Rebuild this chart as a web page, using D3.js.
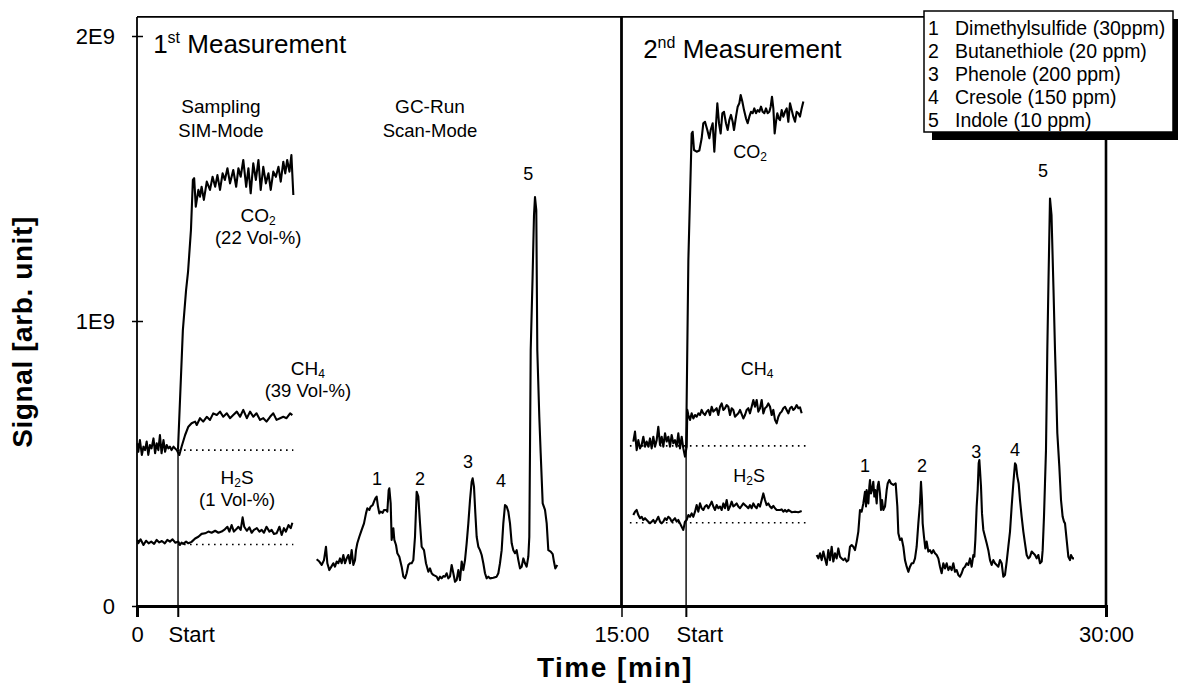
<!DOCTYPE html>
<html lang="en">
<head>
<meta charset="UTF-8">
<title>Signal vs. time, two measurements</title>
<style>
  body { margin: 0; background: #fff; }
  svg { display: block; font-family: "Liberation Sans", Arial, Helvetica, sans-serif; }
  .trace { fill: none; stroke: #000; stroke-width: 2.1px; stroke-linejoin: round; }
  .base { stroke: #000; stroke-width: 1.6px; stroke-dasharray: 1.6,4.4; }
  .lbl { text-anchor: middle; fill: #000; }
  .peak { font-size: 18px; text-anchor: middle; }
</style>
<script src="https://d3js.org/d3.v7.min.js"></script>
</head>
<body>
<div id="chart"></div>
<script>
// time in minutes, signal in units of 1E9
const timeTicks = [0, 1.27, 15, 17.0, 30];
const timeTickLabels = ["0", "Start", "15:00", "Start", "30:00"];
const signalTicks = [0, 1, 2];
const signalTickLabels = ["0", "1E9", "2E9"];
const startTimes = [1.27, 17.0];

const legendItems = [
  ["1", "Dimethylsulfide (30ppm)"],
  ["2", "Butanethiole (20 ppm)"],
  ["3", "Phenole (200 ppm)"],
  ["4", "Cresole (150 ppm)"],
  ["5", "Indole (10 ppm)"]
];

// dotted reference levels (baseline before sampling)
const baseFrom = [1.27, 1.27, 15.26, 15.26];
const baseTo = [4.84, 4.84, 20.73, 20.73];
const baseLevel = [0.547, 0.216, 0.562, 0.292];

const co2Run1 = [[1.27,0.551],[1.42,0.968],[1.52,1.109],[1.58,1.172],[1.67,1.319],[1.73,1.495],[1.77,1.501],[1.82,1.401],[1.90,1.460],[1.95,1.436],[2.00,1.471],[2.07,1.425],[2.16,1.489],[2.26,1.460],[2.34,1.506],[2.42,1.471],[2.49,1.512],[2.57,1.460],[2.65,1.518],[2.72,1.495],[2.80,1.536],[2.88,1.483],[2.98,1.530],[3.07,1.471],[3.14,1.536],[3.21,1.506],[3.29,1.565],[3.38,1.471],[3.45,1.536],[3.52,1.448],[3.60,1.553],[3.68,1.495],[3.76,1.565],[3.83,1.460],[3.91,1.541],[3.99,1.483],[4.07,1.518],[4.14,1.460],[4.22,1.524],[4.30,1.506],[4.38,1.541],[4.45,1.489],[4.53,1.559],[4.59,1.518],[4.65,1.565],[4.72,1.524],[4.78,1.582],[4.84,1.442]];

const ch4Run1 = [[0.02,0.571],[0.04,0.541],[0.09,0.582],[0.15,0.530],[0.20,0.559],[0.25,0.547],[0.30,0.577],[0.35,0.530],[0.40,0.565],[0.45,0.553],[0.51,0.588],[0.56,0.536],[0.61,0.571],[0.66,0.547],[0.71,0.600],[0.76,0.536],[0.82,0.582],[0.87,0.541],[0.92,0.565],[0.97,0.553],[1.02,0.559],[1.07,0.547],[1.13,0.559],[1.23,0.547],[1.31,0.530],[1.38,0.559],[1.49,0.600],[1.59,0.629],[1.69,0.641],[1.80,0.647],[1.85,0.635],[1.95,0.659],[2.05,0.647],[2.16,0.664],[2.26,0.653],[2.36,0.676],[2.47,0.670],[2.57,0.682],[2.67,0.664],[2.78,0.676],[2.88,0.659],[2.98,0.670],[3.09,0.682],[3.19,0.664],[3.29,0.688],[3.40,0.659],[3.50,0.682],[3.60,0.664],[3.70,0.676],[3.81,0.653],[3.91,0.659],[4.01,0.647],[4.12,0.664],[4.22,0.676],[4.32,0.653],[4.43,0.659],[4.53,0.664],[4.63,0.659],[4.74,0.676],[4.81,0.670]];

const h2sRun1 = [[0.02,0.232],[0.04,0.220],[0.11,0.234],[0.20,0.214],[0.28,0.229],[0.36,0.220],[0.44,0.226],[0.53,0.218],[0.61,0.232],[0.69,0.223],[0.77,0.228],[0.86,0.220],[0.94,0.232],[1.02,0.226],[1.10,0.234],[1.19,0.222],[1.28,0.226],[1.33,0.214],[1.38,0.222],[1.43,0.218],[1.52,0.226],[1.59,0.220],[1.69,0.225],[1.80,0.237],[1.90,0.243],[2.00,0.253],[2.11,0.255],[2.21,0.261],[2.31,0.257],[2.42,0.264],[2.52,0.257],[2.62,0.261],[2.72,0.269],[2.80,0.278],[2.86,0.261],[2.93,0.284],[3.00,0.261],[3.07,0.269],[3.14,0.278],[3.21,0.267],[3.27,0.311],[3.32,0.278],[3.40,0.264],[3.48,0.276],[3.55,0.257],[3.62,0.267],[3.71,0.273],[3.79,0.261],[3.86,0.267],[3.93,0.257],[4.01,0.278],[4.10,0.261],[4.17,0.267],[4.24,0.253],[4.32,0.255],[4.41,0.278],[4.48,0.249],[4.55,0.273],[4.61,0.261],[4.69,0.284],[4.76,0.273],[4.81,0.292]];

const gcRun1 = [[5.562,0.164],[5.645,0.156],[5.717,0.144],[5.789,0.161],[5.851,0.208],[5.893,0.150],[5.955,0.126],[6.027,0.140],[6.078,0.150],[6.130,0.138],[6.182,0.156],[6.233,0.150],[6.285,0.167],[6.336,0.150],[6.388,0.179],[6.440,0.150],[6.491,0.167],[6.543,0.179],[6.594,0.150],[6.646,0.196],[6.698,0.144],[6.749,0.161],[6.780,0.196],[6.821,0.220],[6.883,0.243],[6.956,0.267],[7.028,0.290],[7.090,0.325],[7.131,0.343],[7.193,0.337],[7.234,0.349],[7.296,0.354],[7.337,0.366],[7.379,0.378],[7.420,0.384],[7.461,0.349],[7.502,0.325],[7.544,0.331],[7.606,0.327],[7.647,0.337],[7.709,0.337],[7.750,0.331],[7.792,0.407],[7.812,0.413],[7.854,0.360],[7.884,0.232],[7.936,0.273],[7.967,0.232],[8.019,0.214],[8.060,0.185],[8.122,0.173],[8.194,0.138],[8.246,0.103],[8.297,0.097],[8.349,0.115],[8.400,0.144],[8.452,0.150],[8.504,0.150],[8.555,0.161],[8.607,0.243],[8.658,0.401],[8.710,0.384],[8.762,0.290],[8.813,0.208],[8.885,0.196],[8.947,0.150],[9.020,0.120],[9.071,0.132],[9.123,0.115],[9.174,0.109],[9.278,0.103],[9.329,0.091],[9.381,0.103],[9.432,0.097],[9.484,0.105],[9.536,0.103],[9.587,0.115],[9.639,0.097],[9.690,0.103],[9.742,0.144],[9.794,0.115],[9.845,0.085],[9.897,0.091],[9.948,0.126],[10.000,0.091],[10.052,0.156],[10.103,0.126],[10.155,0.161],[10.206,0.220],[10.258,0.290],[10.310,0.372],[10.361,0.436],[10.392,0.448],[10.433,0.419],[10.475,0.325],[10.516,0.243],[10.568,0.208],[10.619,0.196],[10.671,0.179],[10.722,0.150],[10.774,0.115],[10.826,0.097],[10.877,0.103],[10.929,0.097],[11.032,0.099],[11.135,0.103],[11.187,0.115],[11.238,0.150],[11.290,0.196],[11.341,0.290],[11.393,0.354],[11.445,0.349],[11.496,0.331],[11.548,0.290],[11.600,0.220],[11.651,0.196],[11.703,0.185],[11.754,0.196],[11.806,0.161],[11.858,0.132],[11.909,0.138],[11.961,0.167],[12.012,0.150],[12.064,0.138],[12.115,0.173],[12.146,0.243],[12.167,0.547],[12.189,0.898],[12.245,1.144],[12.291,1.372],[12.322,1.435],[12.362,1.389],[12.393,0.898],[12.455,0.664],[12.498,0.536],[12.560,0.360],[12.632,0.337],[12.684,0.290],[12.734,0.196],[12.808,0.191],[12.870,0.182],[12.910,0.155],[12.950,0.132],[13.012,0.144]];

const co2Run2 = [[17.00,0.554],[17.07,1.214],[17.172,1.658],[17.203,1.664],[17.245,1.600],[17.327,1.594],[17.410,1.598],[17.482,1.641],[17.533,1.694],[17.585,1.699],[17.657,1.670],[17.719,1.641],[17.761,1.670],[17.823,1.694],[17.874,1.594],[17.915,1.670],[17.967,1.764],[18.019,1.694],[18.070,1.658],[18.122,1.729],[18.173,1.734],[18.235,1.694],[18.287,1.670],[18.338,1.705],[18.390,1.723],[18.442,1.699],[18.483,1.670],[18.545,1.717],[18.597,1.752],[18.648,1.764],[18.690,1.793],[18.741,1.770],[18.793,1.740],[18.854,1.711],[18.906,1.694],[18.958,1.717],[19.009,1.734],[19.061,1.729],[19.112,1.746],[19.164,1.729],[19.216,1.740],[19.267,1.734],[19.319,1.752],[19.371,1.734],[19.422,1.729],[19.474,1.746],[19.525,1.729],[19.577,1.734],[19.618,1.752],[19.659,1.787],[19.701,1.746],[19.742,1.658],[19.783,1.699],[19.824,1.729],[19.866,1.711],[19.907,1.705],[19.959,1.740],[20.010,1.717],[20.062,1.734],[20.114,1.746],[20.165,1.699],[20.217,1.764],[20.268,1.740],[20.320,1.717],[20.372,1.699],[20.423,1.734],[20.475,1.729],[20.526,1.717],[20.578,1.746],[20.630,1.770]];

const ch4Run2 = [[15.366,0.577],[15.418,0.612],[15.470,0.547],[15.521,0.582],[15.573,0.553],[15.624,0.565],[15.676,0.594],[15.728,0.559],[15.779,0.577],[15.831,0.559],[15.882,0.588],[15.934,0.553],[15.985,0.594],[16.037,0.559],[16.089,0.582],[16.140,0.629],[16.192,0.565],[16.244,0.594],[16.295,0.559],[16.347,0.606],[16.398,0.577],[16.450,0.594],[16.502,0.559],[16.553,0.600],[16.605,0.571],[16.656,0.582],[16.708,0.559],[16.759,0.606],[16.811,0.553],[16.863,0.594],[16.914,0.553],[16.966,0.524],[17.018,0.559],[17.038,0.688],[17.069,0.670],[17.121,0.653],[17.172,0.676],[17.224,0.658],[17.276,0.670],[17.327,0.664],[17.379,0.676],[17.430,0.670],[17.482,0.688],[17.533,0.676],[17.585,0.670],[17.637,0.682],[17.688,0.688],[17.740,0.670],[17.792,0.699],[17.843,0.682],[17.895,0.688],[17.946,0.694],[17.998,0.670],[18.050,0.699],[18.101,0.711],[18.153,0.688],[18.204,0.694],[18.256,0.705],[18.307,0.699],[18.359,0.670],[18.411,0.694],[18.462,0.688],[18.514,0.664],[18.566,0.670],[18.617,0.676],[18.669,0.688],[18.772,0.658],[18.824,0.670],[18.875,0.688],[18.927,0.694],[18.978,0.676],[19.030,0.699],[19.082,0.723],[19.133,0.699],[19.185,0.723],[19.236,0.682],[19.288,0.694],[19.340,0.723],[19.391,0.676],[19.443,0.694],[19.494,0.699],[19.546,0.711],[19.598,0.699],[19.649,0.670],[19.701,0.688],[19.752,0.653],[19.804,0.641],[19.856,0.664],[19.907,0.676],[19.959,0.682],[20.010,0.694],[20.062,0.699],[20.114,0.688],[20.165,0.676],[20.217,0.694],[20.268,0.699],[20.320,0.688],[20.372,0.694],[20.423,0.705],[20.475,0.694],[20.526,0.697],[20.578,0.676]];

const h2sRun2 = [[15.366,0.319],[15.418,0.331],[15.470,0.337],[15.521,0.319],[15.573,0.308],[15.624,0.313],[15.676,0.302],[15.728,0.308],[15.779,0.302],[15.831,0.296],[15.882,0.290],[15.934,0.296],[15.985,0.302],[16.037,0.292],[16.089,0.302],[16.140,0.313],[16.192,0.296],[16.244,0.290],[16.295,0.296],[16.347,0.308],[16.398,0.302],[16.450,0.313],[16.502,0.308],[16.553,0.296],[16.605,0.302],[16.656,0.308],[16.708,0.296],[16.759,0.302],[16.811,0.290],[16.863,0.278],[16.914,0.267],[16.966,0.296],[17.018,0.302],[17.069,0.319],[17.121,0.313],[17.172,0.325],[17.224,0.313],[17.276,0.331],[17.327,0.354],[17.379,0.331],[17.430,0.360],[17.482,0.343],[17.533,0.337],[17.585,0.349],[17.637,0.354],[17.688,0.343],[17.740,0.354],[17.792,0.366],[17.843,0.349],[17.895,0.337],[17.946,0.354],[17.998,0.343],[18.050,0.349],[18.101,0.337],[18.153,0.360],[18.204,0.343],[18.256,0.372],[18.307,0.337],[18.359,0.349],[18.411,0.366],[18.462,0.349],[18.514,0.354],[18.566,0.360],[18.617,0.349],[18.669,0.343],[18.772,0.360],[18.824,0.354],[18.875,0.349],[18.927,0.343],[18.978,0.354],[19.030,0.343],[19.082,0.360],[19.133,0.349],[19.185,0.343],[19.236,0.358],[19.288,0.349],[19.340,0.372],[19.391,0.395],[19.443,0.372],[19.494,0.354],[19.546,0.360],[19.598,0.349],[19.649,0.343],[19.701,0.351],[19.752,0.343],[19.804,0.337],[19.907,0.337],[19.959,0.339],[20.010,0.331],[20.062,0.337],[20.114,0.331],[20.165,0.337],[20.268,0.329],[20.372,0.331],[20.475,0.329],[20.578,0.333]];

const gcRun2 = [[21.042,0.179],[21.094,0.167],[21.146,0.185],[21.197,0.161],[21.249,0.191],[21.300,0.167],[21.352,0.144],[21.403,0.196],[21.455,0.161],[21.507,0.208],[21.558,0.156],[21.610,0.185],[21.662,0.167],[21.713,0.202],[21.765,0.173],[21.816,0.167],[21.868,0.161],[21.920,0.167],[21.971,0.156],[22.023,0.161],[22.074,0.208],[22.126,0.214],[22.177,0.208],[22.229,0.196],[22.281,0.226],[22.332,0.261],[22.384,0.337],[22.436,0.331],[22.487,0.360],[22.539,0.401],[22.570,0.349],[22.590,0.407],[22.621,0.384],[22.642,0.360],[22.673,0.419],[22.693,0.442],[22.724,0.395],[22.755,0.407],[22.796,0.436],[22.827,0.384],[22.858,0.407],[22.900,0.360],[22.931,0.419],[22.962,0.436],[23.003,0.395],[23.034,0.337],[23.065,0.372],[23.106,0.337],[23.158,0.349],[23.210,0.407],[23.241,0.430],[23.292,0.442],[23.344,0.430],[23.416,0.425],[23.488,0.430],[23.540,0.349],[23.571,0.255],[23.622,0.232],[23.674,0.237],[23.726,0.208],[23.777,0.161],[23.829,0.138],[23.880,0.120],[23.932,0.138],[23.984,0.150],[24.035,0.150],[24.087,0.167],[24.138,0.208],[24.190,0.290],[24.241,0.360],[24.272,0.436],[24.303,0.372],[24.324,0.290],[24.365,0.243],[24.406,0.202],[24.448,0.226],[24.499,0.191],[24.551,0.196],[24.603,0.185],[24.654,0.196],[24.706,0.185],[24.758,0.179],[24.809,0.167],[24.861,0.138],[24.912,0.115],[24.964,0.150],[25.015,0.132],[25.067,0.150],[25.119,0.126],[25.170,0.138],[25.222,0.126],[25.273,0.150],[25.325,0.120],[25.377,0.126],[25.428,0.109],[25.480,0.103],[25.531,0.115],[25.583,0.132],[25.635,0.138],[25.686,0.150],[25.738,0.144],[25.789,0.167],[25.841,0.138],[25.893,0.179],[25.924,0.173],[25.955,0.232],[25.996,0.349],[26.027,0.407],[26.058,0.501],[26.079,0.512],[26.099,0.477],[26.130,0.419],[26.161,0.325],[26.202,0.267],[26.254,0.243],[26.306,0.220],[26.357,0.196],[26.409,0.161],[26.460,0.144],[26.512,0.161],[26.563,0.150],[26.615,0.144],[26.667,0.138],[26.718,0.161],[26.770,0.150],[26.821,0.103],[26.873,0.109],[26.925,0.156],[26.976,0.208],[27.028,0.261],[27.079,0.349],[27.131,0.430],[27.183,0.501],[27.214,0.495],[27.255,0.454],[27.296,0.430],[27.337,0.372],[27.389,0.313],[27.441,0.261],[27.492,0.220],[27.544,0.179],[27.595,0.167],[27.647,0.173],[27.699,0.191],[27.750,0.185],[27.802,0.179],[27.854,0.167],[27.905,0.179],[27.957,0.150],[28.009,0.156],[28.039,0.196],[28.080,0.313],[28.111,0.430],[28.142,0.547],[28.163,0.723],[28.183,0.898],[28.220,1.144],[28.266,1.430],[28.313,1.372],[28.375,1.109],[28.421,0.898],[28.452,0.781],[28.493,0.606],[28.555,0.489],[28.607,0.372],[28.658,0.313],[28.700,0.296],[28.731,0.290],[28.782,0.232],[28.834,0.173],[28.885,0.161],[28.916,0.179],[28.968,0.167],[29.009,0.167]];

const traces = [co2Run1, ch4Run1, h2sRun1, gcRun1, co2Run2, ch4Run2, h2sRun2, gcRun2];

// peak number labels: [time, signal] of the label baseline
const peakLabelsRun1 = [[7.43,0.425],[8.76,0.425],[10.25,0.484],[11.27,0.418],[12.11,1.495]];
const peakLabelsRun2 = [[22.54,0.470],[24.30,0.470],[25.98,0.519],[27.18,0.526],[28.05,1.505]];

const W = 1178, H = 685;
const svg = d3.select("#chart").append("svg").attr("width", W).attr("height", H);

const x = d3.scaleLinear().domain([0, 30]).range([137, 1106]);
const y = d3.scaleLinear().domain([0, 2]).range([606, 36]);
const yTop = 2.067;

const line = d3.line().x(d => x(d[0])).y(d => y(d[1]));

// frame
const frame = svg.append("g").attr("stroke", "#000").attr("fill", "none");
frame.append("line").attr("x1", x(0)).attr("x2", x(30)).attr("y1", y(yTop)).attr("y2", y(yTop)).attr("stroke-width", 1.6);
frame.append("line").attr("x1", x(0)).attr("x2", x(0)).attr("y1", y(yTop)).attr("y2", y(0)).attr("stroke-width", 1.8);
frame.append("line").attr("x1", x(15)).attr("x2", x(15)).attr("y1", y(yTop)).attr("y2", y(0)).attr("stroke-width", 2.8);
frame.append("line").attr("x1", x(30)).attr("x2", x(30)).attr("y1", y(yTop)).attr("y2", y(0)).attr("stroke-width", 2.6);

// x axis
const xAxis = svg.append("g")
  .attr("transform", `translate(0,${y(0)})`)
  .call(d3.axisBottom(x).tickValues(timeTicks).tickSize(11)
    .tickFormat((d, i) => timeTickLabels[i]));
xAxis.select(".domain").attr("stroke-width", 3);
xAxis.selectAll(".tick line").attr("stroke-width", 1.5);
xAxis.selectAll(".tick text")
  .attr("font-family", "Liberation Sans, Arial, sans-serif")
  .attr("font-size", 22)
  .attr("y", 20)
  .attr("text-anchor", (d, i) => timeTickLabels[i] === "Start" ? "start" : "middle")
  .attr("dx", (d, i) => timeTickLabels[i] === "Start" ? -10 : 0);

// y axis, ticks cross the line
const yAxis = svg.append("g")
  .attr("transform", `translate(${x(0)},0)`)
  .call(d3.axisLeft(y).tickValues(signalTicks).tickSize(5)
    .tickFormat((d, i) => signalTickLabels[i]));
yAxis.select(".domain").remove();
yAxis.selectAll(".tick line").attr("x1", 6).attr("stroke-width", 1.5);
yAxis.selectAll(".tick text")
  .attr("font-family", "Liberation Sans, Arial, sans-serif")
  .attr("font-size", 22)
  .attr("x", -22);

// start markers
svg.selectAll(".start")
  .data(startTimes)
  .enter().append("line")
  .attr("class", "start")
  .attr("x1", d => x(d)).attr("x2", d => x(d))
  .attr("y1", y(0) + 11)
  .attr("y2", (d, i) => y([co2Run1, co2Run2][i][0][1]))
  .attr("stroke", "#000").attr("stroke-width", 1.4);

// dotted baselines
svg.selectAll(".base")
  .data(baseLevel)
  .enter().append("line")
  .attr("class", "base")
  .attr("x1", (d, i) => x(baseFrom[i])).attr("x2", (d, i) => x(baseTo[i]))
  .attr("y1", d => y(d)).attr("y2", d => y(d));

// signal traces
svg.selectAll(".trace")
  .data(traces)
  .enter().append("path")
  .attr("class", "trace")
  .attr("d", line);

// label: first line may carry a subscript [main, sub, rest]; second line plain
function label(t, v, first, second, size, gap) {
  const tx = svg.append("text").attr("class", "lbl")
    .attr("x", x(t)).attr("y", y(v)).attr("font-size", size || 19);
  if (typeof first === "string") {
    tx.append("tspan").text(first);
  } else {
    tx.append("tspan").text(first[0]);
    tx.append("tspan").text(first[1]).attr("font-size", 12).attr("baseline-shift", -3);
    if (first[2]) tx.append("tspan").text(first[2]);
  }
  if (second) {
    tx.append("tspan").attr("x", x(t)).attr("dy", gap || 19)
      .attr("font-size", 18.5).text(second);
  }
  return tx;
}

// measurement titles
[[0.50, 1.940, "1", "st"], [15.67, 1.923, "2", "nd"]].forEach(m => {
  const tx = svg.append("text").attr("x", x(m[0])).attr("y", y(m[1]))
    .attr("font-size", 26);
  tx.append("tspan").text(m[2]);
  tx.append("tspan").text(m[3]).attr("font-size", 16).attr("baseline-shift", 10);
  tx.append("tspan").text(" Measurement");
});

label(2.60, 1.730, "Sampling", "SIM-Mode", 19, 24);
label(9.07, 1.730, "GC-Run", "Scan-Mode", 19, 24);

label(3.75, 1.347, ["CO", "2", ""], "(22 Vol-%)", 19, 22);
label(5.29, 0.811, ["CH", "4", ""], "(39 Vol-%)", 19, 22);
label(3.10, 0.428, ["H", "2", "S"], "(1 Vol-%)", 19, 22);

label(18.98, 1.572, ["CO", "2", ""], null, 18);
label(19.20, 0.811, ["CH", "4", ""], null, 18);
label(18.95, 0.435, ["H", "2", "S"], null, 18);

peakLabelsRun1.concat(peakLabelsRun2).forEach((p, i) => {
  svg.append("text").attr("class", "peak")
    .attr("x", x(p[0])).attr("y", y(p[1])).text(legendItems[i % 5][0]);
});

// axis titles
svg.append("text").attr("x", 615).attr("y", 677)
  .attr("text-anchor", "middle").attr("font-size", 28).attr("font-weight", "bold")
  .attr("letter-spacing", 1.5)
  .text("Time [min]");
svg.append("text").attr("transform", "translate(32,332) rotate(-90)")
  .attr("text-anchor", "middle").attr("font-size", 28).attr("font-weight", "bold")
  .attr("letter-spacing", 0.6)
  .text("Signal [arb. unit]");

// legend with drop shadow
const leg = svg.append("g");
leg.append("rect").attr("x", 932).attr("y", 19).attr("width", 250).attr("height", 121).attr("fill", "#000");
leg.append("rect").attr("x", 924).attr("y", 11).attr("width", 249).attr("height", 121)
  .attr("fill", "#fff").attr("stroke", "#000").attr("stroke-width", 1.5);
legendItems.forEach((d, i) => {
  const ty = 35 + i * 23;
  leg.append("text").attr("x", 928).attr("y", ty).attr("font-size", 19.5).text(d[0]);
  leg.append("text").attr("x", 955).attr("y", ty).attr("font-size", 19.5).text(d[1]);
});
</script>
</body>
</html>
